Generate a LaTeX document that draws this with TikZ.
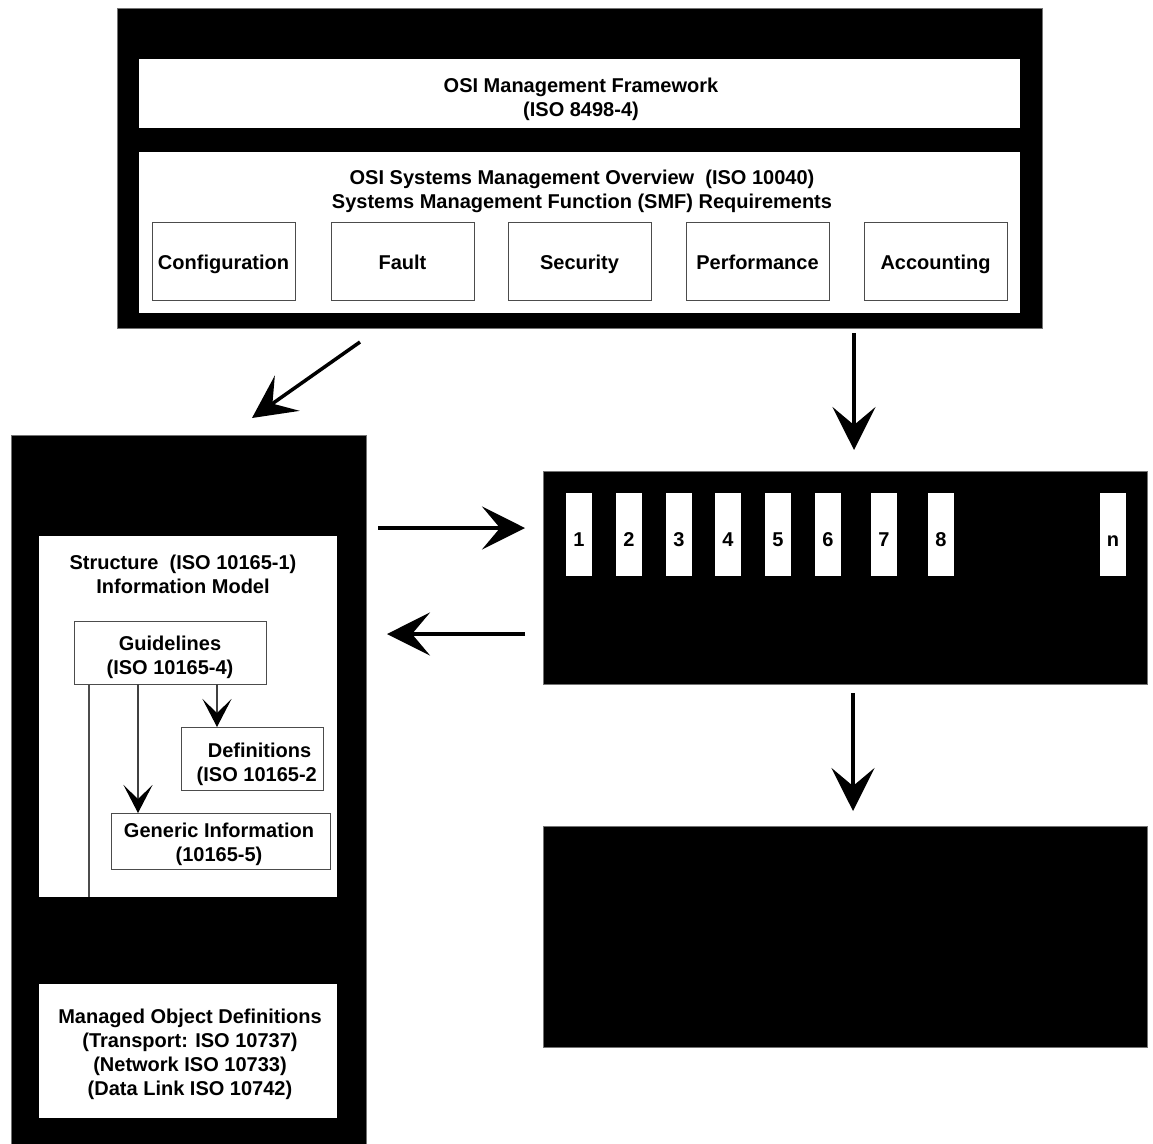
\documentclass[tikz,border=0pt]{standalone}
\usepackage{fontspec}
\setmainfont{Liberation Sans}
\usetikzlibrary{arrows.meta}
\begin{document}
\begin{tikzpicture}[x=1pt,y=-1pt,
  every node/.style={inner sep=0pt, outer sep=0pt},
  blk/.style={fill=black, draw=black!55, line width=0.8pt, anchor=north west},
  wpanel/.style={fill=white, draw=none, anchor=north west},
  wbox/.style={fill=white, draw=black!70, line width=0.9pt, anchor=north west,
    align=center, font=\fontsize{20}{24}\selectfont\bfseries},
  fnbox/.style={wbox, minimum width=143pt, minimum height=78pt,
    text height=17pt, text depth=0pt},
  wbar/.style={fill=white, draw=none, anchor=north west, minimum width=26pt,
    minimum height=83pt, text height=24pt, text depth=0pt,
    font=\fontsize{20}{24}\selectfont\bfseries},
  lbl/.style={align=center, font=\fontsize{20}{24}\selectfont\bfseries},
  bigarrow/.style={line width=3.5pt, -{Stealth[length=43pt,width=43pt,inset=18pt]}},
  smallarrow/.style={line width=1.1pt, draw=black!75,
    -{Stealth[length=28pt,width=29pt,inset=14pt,color=black]}},
  plainline/.style={line width=1.1pt, draw=black!70}
]
\useasboundingbox (0,0) rectangle (1153,1143);

% ---- management framework block ----
\node[blk, minimum width=925pt, minimum height=320pt] (top) at (117,8) {};
\node[wpanel, minimum width=881pt, minimum height=69pt] (fw) at (139,59) {};
\node[lbl] (fwtext) at (581,99) {OSI Management Framework\\(ISO 8498-4)};
\node[wpanel, minimum width=881pt, minimum height=161pt] (smo) at (139,152) {};
\node[lbl] (smotext) at (582,191) {OSI Systems Management Overview\ \ (ISO 10040)\\Systems Management Function (SMF) Requirements};
\node[fnbox] (cfg)  at (152,222) {Configuration};
\node[fnbox] (flt)  at (331,222) {Fault};
\node[fnbox] (sec)  at (508,222) {Security};
\node[fnbox] (perf) at (686,222) {Performance};
\node[fnbox] (acc)  at (864,222) {Accounting};

% ---- information model column ----
\node[blk, minimum width=355pt, minimum height=712pt] (left) at (11,435) {};
\node[wpanel, minimum width=298pt, minimum height=361pt] (struct) at (39,536) {};
\node[lbl] (structtext) at (183,574.5) {Structure\ \ (ISO 10165-1)\\Information Model};
\node[wbox, minimum width=192pt, minimum height=63pt] (guide) at (74,621) {};
\node[lbl] (guidetext) at (170,657) {Guidelines\\(ISO 10165-4)};
\node[wbox, minimum width=142pt, minimum height=63pt] (defs) at (181,727) {};
\node[lbl] (defstext) at (254,764) {\ \ Definitions\\\ (ISO 10165-2};
\node[wbox, minimum width=219pt, minimum height=56pt] (gen) at (111,813) {};
\node[lbl] (gentext) at (219,844.5) {Generic Information\\(10165-5)};
\node[wpanel, minimum width=298pt, minimum height=134pt] (mod) at (39,984) {};
\node[lbl] (modtext) at (190,1054.5)
  {Managed Object Definitions\\(Transport: ISO 10737)\\(Network ISO 10733)\\(Data Link ISO 10742)};

\coordinate (gx1) at (89,0);
\coordinate (gx2) at (138,0);
\coordinate (gx3) at (217,0);
\draw[plainline] (guide.south -| gx1) -- (struct.south -| gx1);
\draw[smallarrow] (guide.south -| gx2) -- (gen.north -| gx2);
\draw[smallarrow] (guide.south -| gx3) -- (defs.north -| gx3);

% ---- function block with numbered slots ----
\node[blk, minimum width=604pt, minimum height=213pt] (fn) at (543,471) {};
\foreach \i/\x in {1/566,2/616,3/666,4/715,5/765,6/815,7/871,8/928,n/1100}
  \node[wbar] (bar\i) at (\x,493) {\i};

\node[blk, minimum width=604pt, minimum height=221pt] (bottom) at (543,826) {};

% ---- connectors between the blocks ----
\coordinate (a1s) at (360,342);  \coordinate (a1e) at (252,418);
\coordinate (a2s) at (854,333);  \coordinate (a2e) at (854,450);
\coordinate (a3s) at (378,528);  \coordinate (a3e) at (525,528);
\coordinate (a4s) at (525,634);  \coordinate (a4e) at (387,634);
\coordinate (a5s) at (853,693);  \coordinate (a5e) at (853,811);
\draw[bigarrow] (a1s) -- (a1e);
\draw[bigarrow] (a2s) -- (a2e);
\draw[bigarrow] (a3s) -- (a3e);
\draw[bigarrow] (a4s) -- (a4e);
\draw[bigarrow] (a5s) -- (a5e);
\end{tikzpicture}
\end{document}
